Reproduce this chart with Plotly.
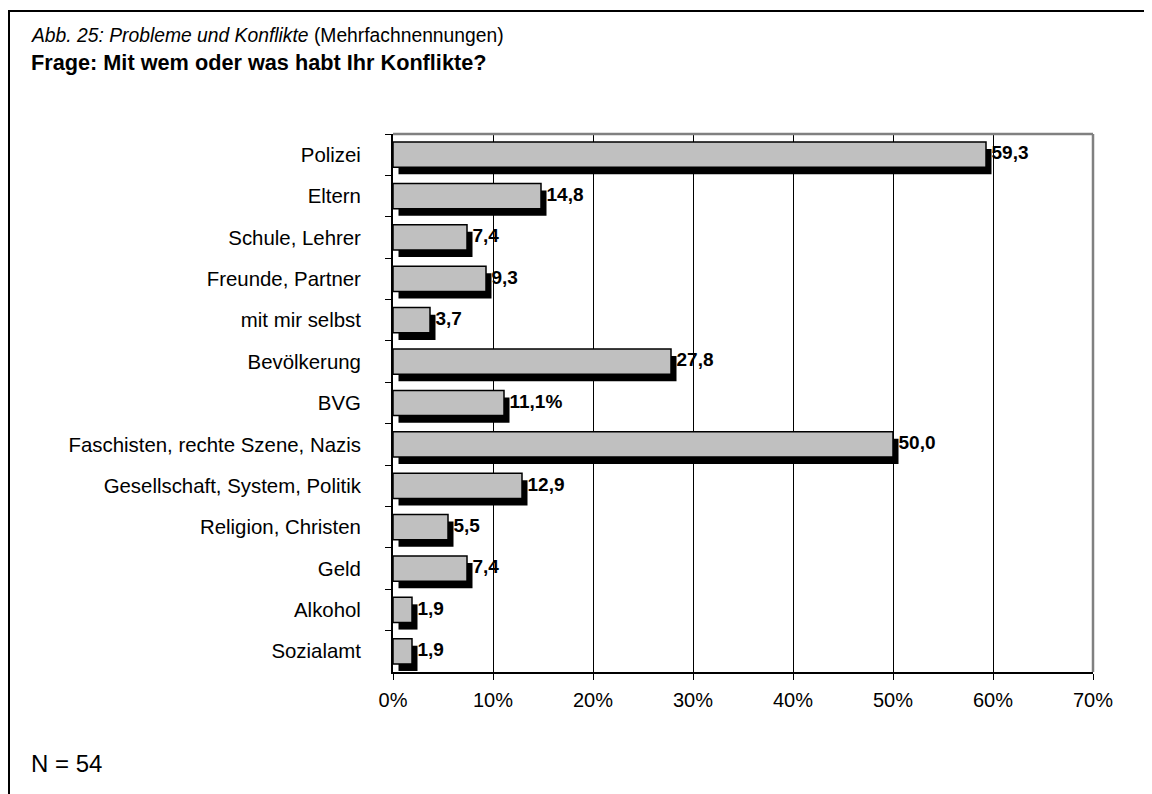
import plotly.graph_objects as go

categories = ["Polizei", "Eltern", "Schule, Lehrer", "Freunde, Partner", "mit mir selbst",
              "Bevölkerung", "BVG", "Faschisten, rechte Szene, Nazis",
              "Gesellschaft, System, Politik", "Religion, Christen", "Geld", "Alkohol", "Sozialamt"]
values = [59.3, 14.8, 7.4, 9.3, 3.7, 27.8, 11.1, 50.0, 12.9, 5.5, 7.4, 1.9, 1.9]
value_labels = ["59,3", "14,8", "7,4", "9,3", "3,7", "27,8", "11,1%", "50,0", "12,9", "5,5", "7,4", "1,9", "1,9"]
x_ticks = [0, 10, 20, 30, 40, 50, 60, 70]
x_tick_labels = ["0%", "10%", "20%", "30%", "40%", "50%", "60%", "70%"]

FONT = "Liberation Sans, Arial, sans-serif"
OFF = 8  # page body margin
W, H = 1152 - OFF, 794 - OFF
# plot area in screen pixels
SL, SR, ST, SB = 393, 1093, 134, 672
L, R, T, B = SL - OFF, SR - OFF, ST - OFF, SB - OFF

def px(x):  # screen x -> paper
    return (x - SL) / (SR - SL)

def py(y):  # screen y -> paper
    return (SB - y) / (SB - ST)

bar_w = 0.61
shift_x = 0.55   # shadow shift (data units)
shift_y = 0.17   # shadow shift (category units)
n = len(categories)

fig = go.Figure()
fig.add_trace(go.Bar(
    y=categories, x=values, base=[shift_x] * n, orientation="h",
    width=bar_w, offset=-bar_w / 2 + shift_y,
    marker=dict(color="black", line=dict(width=0)), hoverinfo="skip", showlegend=False))
fig.add_trace(go.Bar(
    y=categories, x=values, orientation="h",
    width=bar_w, offset=-bar_w / 2,
    marker=dict(color="#C0C0C0", line=dict(color="black", width=1.5)), showlegend=False))
fig.add_trace(go.Scatter(
    y=categories, x=[v + shift_x for v in values], mode="text", text=value_labels,
    textposition="middle right", cliponaxis=False,
    textfont=dict(family=FONT, size=19, color="black", weight="bold"), showlegend=False))

fig.update_layout(
    width=W, height=H, barmode="overlay",
    margin=dict(l=L, r=W - R, t=T, b=H - B, pad=0),
    paper_bgcolor="white", plot_bgcolor="white",
    font=dict(family=FONT, size=20, color="black"),
    xaxis=dict(range=[0, 70], tickmode="array", tickvals=x_ticks, ticktext=x_tick_labels,
               showgrid=True, gridcolor="black", gridwidth=1, showline=True,
               linecolor="black", linewidth=2,
               ticks="outside", ticklen=6, tickcolor="black", zeroline=False,
               ticklabelstandoff=3, tickfont=dict(size=20)),
    yaxis=dict(type="category", categoryorder="array", categoryarray=categories,
               range=[n - 0.5, -0.5], autorange=False,
               showline=True, linecolor="black", linewidth=2,
               ticks="outside", tickson="boundaries", ticklen=6, tickcolor="black",
               showgrid=False, ticklabelstandoff=26, tickfont=dict(size=20.4)),
    shapes=[
        dict(type="line", xref="paper", yref="paper", x0=0, x1=1, y0=1, y1=1,
             line=dict(color="#808080", width=2.5), layer="above"),
        dict(type="line", xref="paper", yref="paper", x0=1, x1=1, y0=0, y1=1,
             line=dict(color="#808080", width=2.5), layer="above"),
        dict(type="rect", xref="paper", yref="paper", x0=px(9), x1=px(1170), y0=py(820), y1=py(11),
             line=dict(color="black", width=2), fillcolor="rgba(0,0,0,0)", layer="above"),
    ],
    annotations=[
        dict(xref="paper", yref="paper", x=px(29), y=py(36), xanchor="left", yanchor="middle",
             showarrow=False, align="left",
             text="<i>Abb. 25: Probleme und Konflikte</i> (Mehrfachnennungen)",
             font=dict(size=19.3, family=FONT)),
        dict(xref="paper", yref="paper", x=px(29), y=py(63), xanchor="left", yanchor="middle",
             showarrow=False, align="left",
             text="<b>Frage: Mit wem oder was habt Ihr Konflikte?</b>",
             font=dict(size=21.7, family=FONT)),
        dict(xref="paper", yref="paper", x=px(29), y=py(764), xanchor="left", yanchor="middle",
             showarrow=False, align="left", text="N = 54",
             font=dict(size=24, family=FONT)),
    ],
)

fig.write_html("out.html")
